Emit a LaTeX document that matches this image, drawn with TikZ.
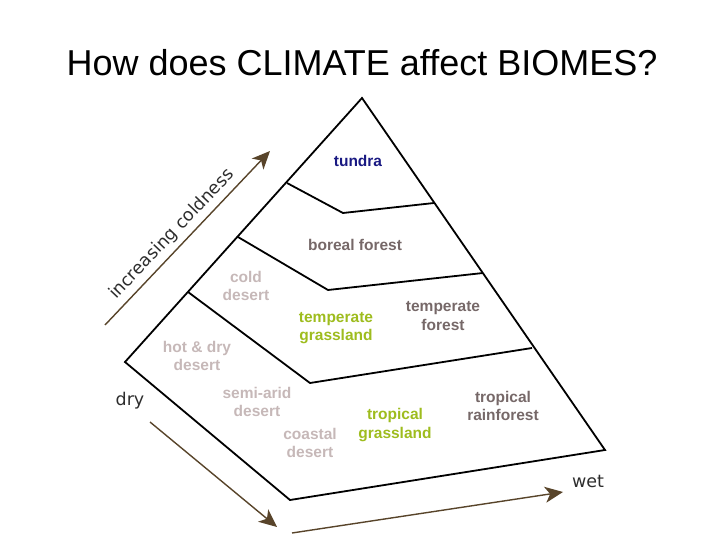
\documentclass[tikz,border=0pt]{standalone}
\usepackage{fontspec}
\setmainfont{Liberation Sans}
\newfontfamily\handfont{DejaVu Sans}
\usetikzlibrary{arrows.meta}
\definecolor{tundraC}{RGB}{25,25,130}
\definecolor{forestC}{RGB}{118,104,104}
\definecolor{desertC}{RGB}{198,184,184}
\definecolor{grassC}{RGB}{158,188,30}
\definecolor{arrowC}{RGB}{88,68,42}
\definecolor{axisC}{RGB}{45,45,45}
\begin{document}
\begin{tikzpicture}[x=1pt,y=-1pt,
  edge/.style={line width=1.8pt, black, line join=miter},
  axarrow/.style={line width=1.4pt, arrowC, -{Stealth[length=18pt,width=16pt,inset=5pt]}},
  lbl/.style={align=center, font=\bfseries\fontsize{15.5}{18.5}\selectfont, inner sep=0pt},
  hand/.style={font=\handfont\fontsize{17.5}{20}\selectfont, text=axisC, inner sep=0pt}]
\useasboundingbox (0,0) rectangle (720,540);

% title
\node[anchor=base, font=\fontsize{36}{40}\selectfont, inner sep=0pt] (title) at (362,76) {How does CLIMATE affect BIOMES?};

% pyramid corners
\coordinate (A) at (362,98);
\coordinate (L) at (125,362);
\coordinate (F) at (290,500);
\coordinate (R) at (605,450);
% tier lines
\coordinate (t1) at (287,183);
\coordinate (t2) at (343,213);
\coordinate (t3) at (434,203);
\coordinate (b1) at (238,237);
\coordinate (b2) at (328,290);
\coordinate (b3) at (483,273);
\coordinate (c1) at (188,292);
\coordinate (c2) at (310,383);
\coordinate (c3) at (532,348);

\draw[edge] (A) -- (L) -- (F) -- (R) -- cycle;
\draw[edge] (t1) -- (t2) -- (t3);
\draw[edge] (b1) -- (b2) -- (b3);
\draw[edge] (c1) -- (c2) -- (c3);

% axis arrows
\coordinate (k0) at (105,325);
\coordinate (k1) at (270,151);
\coordinate (d0) at (150,422);
\coordinate (d1) at (277,527);
\coordinate (w0) at (292,533);
\coordinate (w1) at (563,492);
\draw[axarrow] (k0) -- (k1);
\draw[axarrow] (d0) -- (d1);
\draw[axarrow] (w0) -- (w1);

\node[hand, rotate=46.4] (cold) at (172,234) {increasing coldness};
\node[hand] (dry) at (130,401) {dry};
\node[hand] (wet) at (588,481) {wet};

% biome labels
\node[lbl, text=tundraC] (tundra) at (358,161) {tundra};
\node[lbl, text=forestC] (boreal) at (355,245) {boreal forest};
\node[lbl, text=desertC] (colddes) at (246,286) {cold\\desert};
\node[lbl, text=grassC] (tgrass) at (336,328) {temperate\\grassland};
\node[lbl, text=forestC] (tforest) at (443,316) {temperate\\forest};
\node[lbl, text=desertC] (hotdes) at (197,356) {hot \& dry\\desert};
\node[lbl, text=desertC] (semides) at (257,402) {semi-arid\\desert};
\node[lbl, text=desertC] (coastdes) at (310,443) {coastal\\desert};
\node[lbl, text=grassC] (trgrass) at (395,425) {tropical\\grassland};
\node[lbl, text=forestC] (trforest) at (503,406) {tropical\\rainforest};
\end{tikzpicture}
\end{document}
